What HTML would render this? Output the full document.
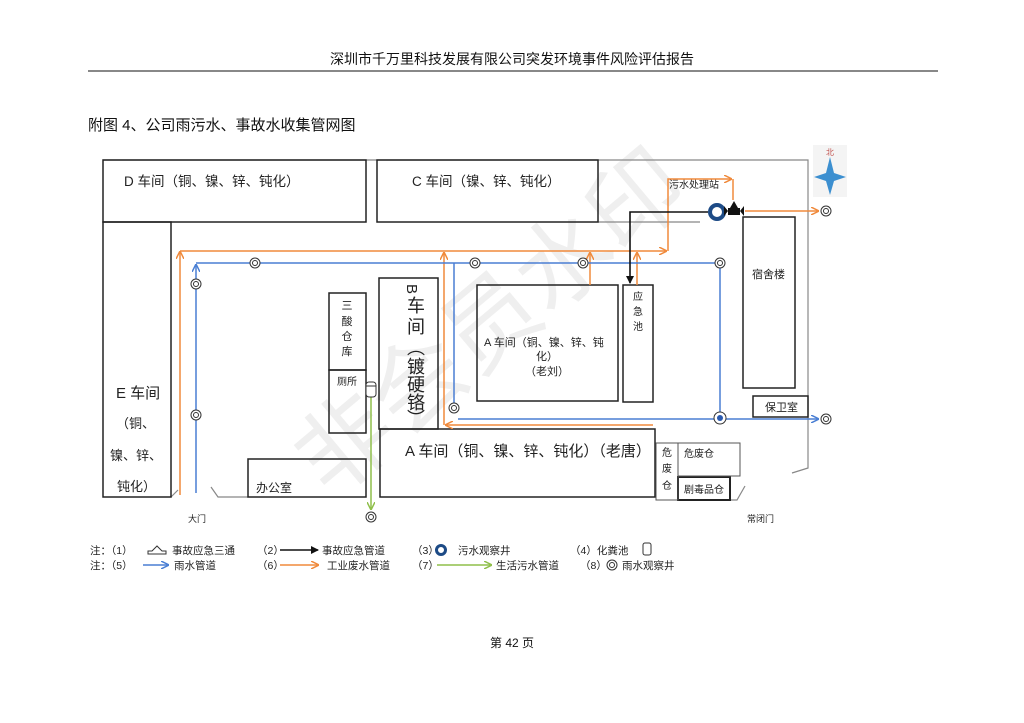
<!DOCTYPE html>
<html><head><meta charset="utf-8"><style>
html,body{margin:0;padding:0;background:#fff;}
svg{display:block;}
text{font-family:"Liberation Sans","Noto Sans CJK SC",sans-serif;}
</style></head><body>
<svg width="1024" height="723" viewBox="0 0 1024 723" xmlns="http://www.w3.org/2000/svg">
<defs>
<marker id="ao" markerWidth="8" markerHeight="8" refX="7" refY="4" orient="auto" markerUnits="userSpaceOnUse"><path d="M0,0 L8,4 L0,8" fill="none" stroke="#f08a3c" stroke-width="1.5"/></marker>
<marker id="ab" markerWidth="8" markerHeight="8" refX="7" refY="4" orient="auto" markerUnits="userSpaceOnUse"><path d="M0,0 L8,4 L0,8" fill="none" stroke="#4a7fd4" stroke-width="1.5"/></marker>
<marker id="ak" markerWidth="8" markerHeight="8" refX="7" refY="4" orient="auto" markerUnits="userSpaceOnUse"><path d="M0,0 L8,4 L0,8 Z" fill="#111"/></marker>
<marker id="ag" markerWidth="8" markerHeight="8" refX="7" refY="4" orient="auto" markerUnits="userSpaceOnUse"><path d="M0,0 L8,4 L0,8" fill="none" stroke="#8fbf4a" stroke-width="1.5"/></marker>
<g id="rw"><circle r="5" fill="#fff" stroke="#333" stroke-width="1"/><circle r="2.5" fill="none" stroke="#333" stroke-width="1"/></g>
</defs>

<text x="0" y="0" transform="translate(330,500) rotate(-40)" font-size="95" fill="#efefef">非会员水印</text>

<text x="512" y="64" font-size="14" text-anchor="middle" fill="#111">深圳市千万里科技发展有限公司突发环境事件风险评估报告</text>
<line x1="88" y1="71" x2="938" y2="71" stroke="#111" stroke-width="1"/>
<text x="88" y="130" font-size="15" fill="#111">附图 4、公司雨污水、事故水收集管网图</text>

<g fill="none" stroke="#888" stroke-width="1.2">
<polyline points="103,160 808,160 808,468 792,473"/>
<polyline points="211,487 218,497 248,497"/>
<polyline points="171,497 178,490"/>
<polyline points="730,500 737,500 745,486"/>
<line x1="598" y1="222" x2="700" y2="222"/>
</g>

<g fill="none" stroke="#222" stroke-width="1.5">
<rect x="103" y="160" width="263" height="62"/>
<rect x="377" y="160" width="221" height="62"/>
<rect x="103" y="222" width="68" height="275"/>
<rect x="329" y="293" width="37" height="77"/>
<rect x="329" y="370" width="37" height="63"/>
<rect x="379" y="278" width="59" height="151"/>
<rect x="477" y="285" width="141" height="116"/>
<rect x="623" y="285" width="30" height="117"/>
<rect x="380" y="429" width="275" height="68"/>
<rect x="248" y="459" width="118" height="38"/>
<rect x="743" y="217" width="52" height="171"/>
<rect x="753" y="396" width="55" height="21"/>
<rect x="678" y="477" width="52" height="23" stroke-width="2"/>
</g>
<g fill="none" stroke="#555" stroke-width="1">
<rect x="656" y="443" width="22" height="57"/>
<rect x="678" y="443" width="62" height="33"/>
</g>

<g fill="#222">
<text x="124" y="186" font-size="13.5">D 车间（铜、镍、锌、钝化）</text>
<text x="412" y="186" font-size="13.5">C 车间（镍、锌、钝化）</text>
<text x="116" y="398" font-size="15">E 车间</text>
<text x="116" y="428" font-size="13">（铜、</text>
<text x="110" y="460" font-size="13">镍、锌、</text>
<text x="117" y="491" font-size="13">钝化）</text>
<text x="347" y="309" font-size="11" text-anchor="middle">三</text>
<text x="347" y="325" font-size="11" text-anchor="middle">酸</text>
<text x="347" y="340" font-size="11" text-anchor="middle">仓</text>
<text x="347" y="355" font-size="11" text-anchor="middle">库</text>
<text x="347" y="385" font-size="10" text-anchor="middle">厕所</text>
<text x="411" y="284" font-size="15" transform="rotate(90 411 284)" dominant-baseline="middle">B</text>
<text x="416" y="312" font-size="18" text-anchor="middle">车</text>
<text x="416" y="333" font-size="18" text-anchor="middle">间</text>
<text x="416" y="354" font-size="18" text-anchor="middle">︵</text>
<text x="416" y="373" font-size="18" text-anchor="middle">镀</text>
<text x="416" y="391" font-size="18" text-anchor="middle">硬</text>
<text x="416" y="409" font-size="18" text-anchor="middle">铬</text>
<text x="416" y="425" font-size="18" text-anchor="middle">︶</text>
<text x="484" y="346" font-size="11">A 车间（铜、镍、锌、钝</text>
<text x="547" y="360" font-size="11" text-anchor="middle">化）</text>
<text x="547" y="375" font-size="11" text-anchor="middle">（老刘）</text>
<text x="638" y="300" font-size="10" text-anchor="middle">应</text>
<text x="638" y="315" font-size="10" text-anchor="middle">急</text>
<text x="638" y="330" font-size="10" text-anchor="middle">池</text>
<text x="405" y="456" font-size="15">A 车间（铜、镍、锌、钝化）（老唐）</text>
<text x="256" y="492" font-size="12">办公室</text>
<text x="667" y="456" font-size="10" text-anchor="middle">危</text>
<text x="667" y="472" font-size="10" text-anchor="middle">废</text>
<text x="667" y="489" font-size="10" text-anchor="middle">仓</text>
<text x="684" y="457" font-size="10">危废仓</text>
<text x="684" y="493" font-size="10">剧毒品仓</text>
<text x="765" y="411" font-size="11">保卫室</text>
<text x="752" y="278" font-size="11">宿舍楼</text>
<text x="669" y="188" font-size="10">污水处理站</text>
<text x="188" y="522" font-size="9">大门</text>
<text x="747" y="522" font-size="9">常闭门</text>
</g>

<g fill="none" stroke="#f08a3c" stroke-width="1.5">
<polyline points="180,495 180,252" marker-end="url(#ao)"/>
<line x1="180" y1="251" x2="666" y2="251" marker-end="url(#ao)"/>
<polyline points="668,251 668,179 731,179" marker-end="url(#ao)"/>
<line x1="733" y1="179" x2="733" y2="200"/>
<line x1="444" y1="425" x2="444" y2="253" marker-end="url(#ao)"/>
<line x1="590" y1="285" x2="590" y2="253" marker-end="url(#ao)"/>
<line x1="637" y1="285" x2="637" y2="253" marker-end="url(#ao)"/>
<line x1="653" y1="425" x2="446" y2="425" marker-end="url(#ao)"/>
<line x1="745" y1="211" x2="818" y2="211" marker-end="url(#ao)"/>
</g>
<g fill="none" stroke="#4a7fd4" stroke-width="1.5">
<line x1="196" y1="493" x2="196" y2="265" marker-end="url(#ab)"/>
<polyline points="196,263 720,263 720,418"/>
<line x1="454" y1="263" x2="454" y2="412" marker-end="url(#ab)"/>
<line x1="458" y1="419" x2="818" y2="419" marker-end="url(#ab)"/>
</g>
<g fill="none" stroke="#111" stroke-width="1.6">
<polyline points="708,212 630,212 630,283" marker-end="url(#ak)"/>
</g>
<line x1="371" y1="397" x2="371" y2="509" stroke="#8fbf4a" stroke-width="1.5" marker-end="url(#ag)"/>
<rect x="366" y="382" width="10" height="15" rx="3" fill="#fff" stroke="#333"/>
<line x1="366" y1="386" x2="376" y2="386" stroke="#333"/>

<use href="#rw" x="196" y="284"/>
<use href="#rw" x="196" y="415"/>
<use href="#rw" x="255" y="263"/>
<use href="#rw" x="475" y="263"/>
<use href="#rw" x="583" y="263"/>
<use href="#rw" x="720" y="263"/>
<use href="#rw" x="454" y="408"/>
<use href="#rw" x="371" y="517"/>
<use href="#rw" x="826" y="211"/>
<use href="#rw" x="826" y="419"/>
<circle cx="720" cy="418" r="6" fill="#fff" stroke="#333"/><circle cx="720" cy="418" r="3" fill="#2a5ab0"/>
<circle cx="717" cy="212" r="7" fill="none" stroke="#1d4b86" stroke-width="4"/>
<g fill="#111"><rect x="728" y="208" width="12" height="7"/><path d="M730,208 L734,201 L738,208Z"/><path d="M728,211 L724,206 L724,216Z"/><path d="M740,211 L744,206 L744,216Z"/></g>

<rect x="813" y="145" width="34" height="52" fill="#f4f4f4"/>
<text x="830" y="155" font-size="8" fill="#c0504d" text-anchor="middle">北</text>
<path d="M830,157 L834,173 L846,177 L834,181 L830,195 L826,181 L814,177 L826,173Z" fill="#3c8fd0"/>

<g fill="#222" font-size="10.5">
<text x="90" y="554">注：（1）</text>
<path d="M152,551 l5,-5 l5,5 h4 v3 h-18 v-3z" fill="none" stroke="#333"/>
<text x="172" y="554">事故应急三通</text>
<text x="257" y="554">（2）</text>
<line x1="280" y1="550" x2="318" y2="550" stroke="#111" stroke-width="1.5" marker-end="url(#ak)"/>
<text x="322" y="554">事故应急管道</text>
<text x="412" y="554">（3）</text>
<circle cx="441" cy="550" r="4.5" fill="none" stroke="#1d4b86" stroke-width="3"/>
<text x="458" y="554">污水观察井</text>
<text x="570" y="554">（4）化粪池</text>
<rect x="643" y="543" width="8" height="12" rx="2" fill="none" stroke="#333"/>
<text x="90" y="569">注：（5）</text>
<line x1="143" y1="565" x2="168" y2="565" stroke="#4a7fd4" stroke-width="1.5" marker-end="url(#ab)"/>
<text x="174" y="569">雨水管道</text>
<text x="257" y="569">（6）</text>
<line x1="280" y1="565" x2="318" y2="565" stroke="#f08a3c" stroke-width="1.5" marker-end="url(#ao)"/>
<text x="327" y="569">工业废水管道</text>
<text x="412" y="569">（7）</text>
<line x1="437" y1="565" x2="491" y2="565" stroke="#8fbf4a" stroke-width="1.5" marker-end="url(#ag)"/>
<text x="496" y="569">生活污水管道</text>
<text x="580" y="569">（8）</text>
<use href="#rw" x="612" y="565"/>
<text x="622" y="569">雨水观察井</text>
</g>

<text x="512" y="647" font-size="12" text-anchor="middle" fill="#111">第 42 页</text>
</svg>
</body></html>
